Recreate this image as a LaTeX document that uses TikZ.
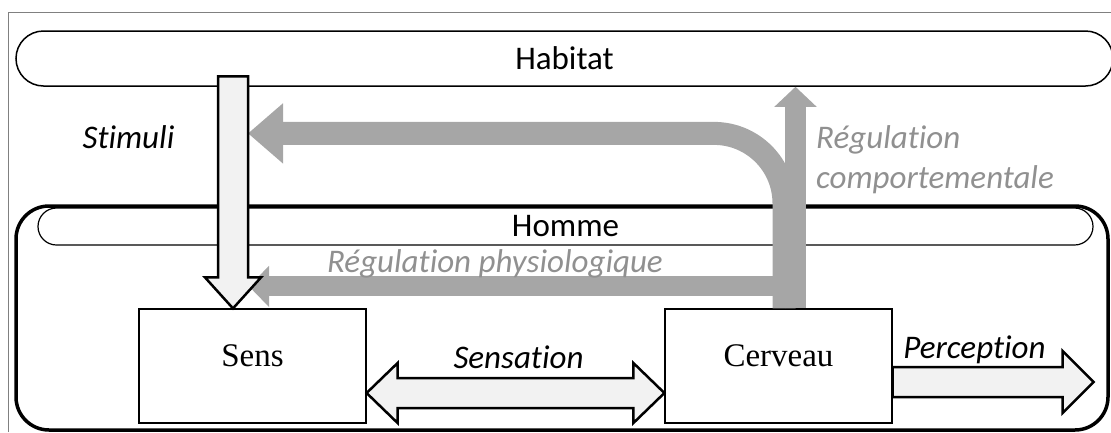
\documentclass[tikz,border=0pt]{standalone}
\usepackage{fontspec}
\setmainfont{Liberation Serif}
\newfontfamily\calib[Ligatures=NoCommon]{Carlito}
\usetikzlibrary{calc,arrows.meta}
\definecolor{reggray}{HTML}{A6A6A6}
\definecolor{regtext}{HTML}{909090}
\definecolor{arrfill}{HTML}{F2F2F2}
\tikzset{box/.style={draw, line width=1.2pt, minimum width=227pt, minimum height=114pt, text height=22pt, text depth=22pt, font=\fontsize{33}{40}\selectfont},
  band/.style={draw, line width=1.5pt, font=\calib\fontsize{33}{40}\selectfont},
  blockarrow/.style={draw, line width=2.5pt, fill=arrfill, line join=miter},
  reg/.style={draw=reggray, line cap=butt},
  lbl/.style={font=\calib\itshape\fontsize{33}{40}\selectfont, anchor=base, inner sep=0pt},
  reglbl/.style={lbl, text=regtext}}

\begin{document}
\begin{tikzpicture}[x=1pt,y=-1pt]
   \useasboundingbox (0,0) rectangle (1111,432);
   \draw[gray, line width=0.8pt] (8,432) |- (1112,12);
   \node[band, rounded corners=27.5pt, minimum width=1097pt, minimum height=55pt] (hab) at (564.5,58.5) {Habitat};
   \node[draw, line width=3.5pt, rounded corners=33pt, minimum width=1092pt, minimum height=224pt] (hom) at (562,318) {};
   \node[band, line width=1.2pt, rounded corners=18.5pt, minimum width=1055pt, minimum height=37pt] (hombar) at (565.5,226.5) {Homme};
   \node[box] (sens) at (252.5,366) {Sens};
   \node[box] (cerv) at (778.5,366) {Cerveau};
   \coordinate (stim) at ($(sens.north)+(-19.5,0)$);
   \draw[reg, line width=23pt, rounded corners=70pt, -{Triangle[length=35pt,width=58pt]}]
     ($(cerv.north)+(5.5,0)$) |- ($(stim)+(15,-175)$);
   \draw[reg, line width=21pt, -{Triangle[length=20pt,width=41pt]}]
     ($(cerv.north)+(17,0)$) coordinate (cb) -- (cb |- hab.south);
   \draw[reg, line width=20pt, -{Triangle[length=20pt,width=40pt]}]
     ($(cerv.north)+(27.5,-22)$) -- ($(stim)+(16,-22)$);
   \draw[blockarrow] (stim) -- ++(-28,-31) -- ++(13,0) -- ++(0,-201) -- ++(30,0) -- ++(0,201) -- ++(13,0) -- cycle;
   \draw[blockarrow] ($(sens.east)+(0,27)$) -- ++(31,-30) -- ++(0,15) -- ($(cerv.west)+(-31,12)$) -- ++(0,-15)
     -- ($(cerv.west)+(0,27)$) -- ++(-31,30) -- ++(0,-15) -- ($(sens.east)+(31,42)$) -- ++(0,15) -- cycle;
   \draw[blockarrow] ($(cerv.east)+(0,1)$) -- ++(170,0) -- ++(0,-16) -- ++(31,31) coordinate (perc) -- ++(-31,31) -- ++(0,-16) -- ++(-170,0) -- cycle;
   \node[lbl] (stimlbl) at (128.5,148) {Stimuli};
   \node[reglbl] (physlbl) at (495,272) {Régulation physiologique};
   \node[reglbl, anchor=base west, align=left] (complbl) at (816,188) {Régulation\\comportementale};
   \node[lbl] (senslbl) at (518.5,368) {Sensation};
   \node[lbl] (perclbl) at (974.5,358) {Perception};
\end{tikzpicture}
\end{document}
